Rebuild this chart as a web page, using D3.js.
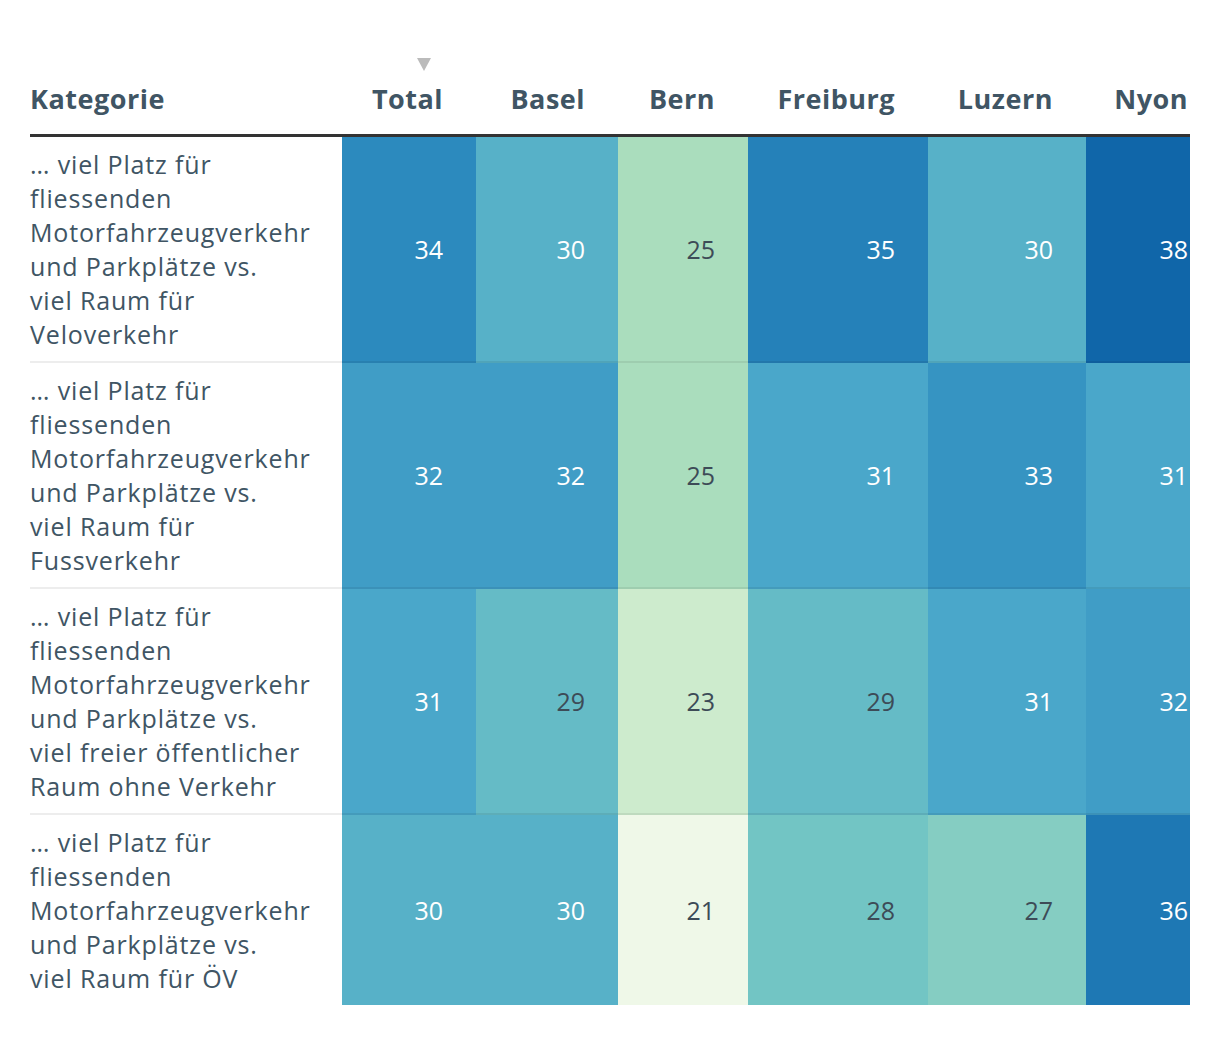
<!DOCTYPE html>
<html>
<head>
<meta charset="utf-8">
<script src="https://cdn.jsdelivr.net/npm/d3@7"></script>
<style>
  body { margin: 0; background: #fff; font-family: "Open Sans", Roboto, sans-serif; }
  #chart { position: absolute; left: 30px; top: 43px; }
  table { border-collapse: separate; border-spacing: 0; table-layout: fixed; width: 1160px; }
  th { font-weight: 700; font-size: 27px; line-height: 34px; color: #405564; letter-spacing: 0.5px;
       text-align: right; vertical-align: bottom; padding: 39px 33px 18px 0;
       border-bottom: 3px solid #333; position: relative; white-space: nowrap; }
  th.cat { text-align: left; }
  th:last-child, td:last-child { padding-right: 2px; }
  td { font-size: 25px; line-height: 34px; vertical-align: middle; text-align: right;
       padding: 10px 33px 10px 0; border-bottom: 2px solid rgba(0,0,0,0.07); }
  tr:last-child td { border-bottom: none; }
  td.cat { text-align: left; white-space: pre; color: #405564; font-size: 25px; letter-spacing: 0.85px; }
  .sort { position: absolute; top: 15px; right: 45px; width: 0; height: 0;
          border-left: 7px solid transparent; border-right: 7px solid transparent;
          border-top: 13px solid #bbb; }
</style>
</head>
<body>
<div id="chart"></div>
<script>
const columns = ['Total', 'Basel', 'Bern', 'Freiburg', 'Luzern', 'Nyon'];
const colWidths = [312, 134, 142, 130, 180, 158, 104];

const categories = [
  '… viel Platz für\nfliessenden\nMotorfahrzeugverkehr\nund Parkplätze vs.\nviel Raum für\nVeloverkehr',
  '… viel Platz für\nfliessenden\nMotorfahrzeugverkehr\nund Parkplätze vs.\nviel Raum für\nFussverkehr',
  '… viel Platz für\nfliessenden\nMotorfahrzeugverkehr\nund Parkplätze vs.\nviel freier öffentlicher\nRaum ohne Verkehr',
  '… viel Platz für\nfliessenden\nMotorfahrzeugverkehr\nund Parkplätze vs.\nviel Raum für ÖV'
];

const velo   = [34, 30, 25, 35, 30, 38];
const fuss   = [32, 32, 25, 31, 33, 31];
const frei   = [31, 29, 23, 29, 31, 32];
const oev    = [30, 30, 21, 28, 27, 36];
const values = [velo, fuss, frei, oev];

// colour ramp (blue-green, light to dark)
const color = d3.scaleLinear()
  .domain([21, 23, 25, 28, 31, 34, 38])
  .range(['#eff8e8', '#cdebcd', '#aaddbd', '#72c5c4', '#4aa7ca', '#2c8abe', '#1066a9'])
  .interpolate(d3.interpolateRgb);

const textColor = (v) => (d3.lab(color(v)).l > 68 ? '#3d4b57' : '#ffffff');

const table = d3.select('#chart').append('table');

table.append('colgroup')
  .selectAll('col')
  .data(colWidths)
  .join('col')
  .style('width', (d) => `${d}px`);

const head = table.append('thead').append('tr');
head.append('th').attr('class', 'cat').text('Kategorie');
head.selectAll('th.val')
  .data(columns)
  .join('th')
  .attr('class', 'val')
  .each(function (d, i) {
    const th = d3.select(this);
    if (i === 0) th.append('span').attr('class', 'sort');
    th.append('span').text(d);
  });

const rows = table.append('tbody')
  .selectAll('tr')
  .data(categories)
  .join('tr');

rows.append('td')
  .attr('class', 'cat')
  .text((d) => d);

rows.selectAll('td.val')
  .data((d, i) => values[i])
  .join('td')
  .attr('class', 'val')
  .style('background', (d) => color(d))
  .style('color', (d) => textColor(d))
  .text((d) => d);
</script>
</body>
</html>
